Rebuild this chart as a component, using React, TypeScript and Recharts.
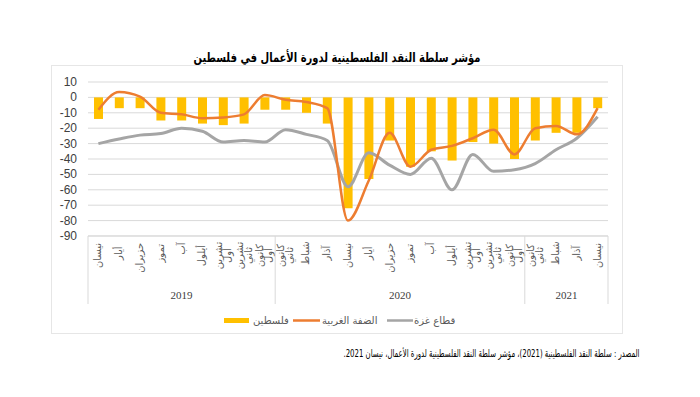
import React from 'react';
import { ComposedChart, Bar, Line, XAxis, YAxis, CartesianGrid } from 'recharts';

const months = ['نيسان','أيار','حزيران','تموز','آب','أيلول','تشرين أول','تشرين ثاني','كانون أول','كانون ثاني','شباط','آذار','نيسان','أيار','حزيران','تموز','آب','أيلول','تشرين أول','تشرين ثاني','كانون أول','كانون ثاني','شباط','آذار','نيسان'];
const years = ['2019', '2020', '2021'];
const palestine = [-14,-7,-7,-15,-15,-17,-18,-17,-8,-8,-10,-17,-72,-53,-28,-45,-35,-41,-29,-30,-40,-28,-23,-23,-7];
const westBank = [-8,3.5,0.5,-10,-11,-13.5,-13,-11,1.5,-1.5,-3,-7,-80,-54,-23,-45,-34,-31.5,-26.5,-21,-37,-20,-18.5,-24,-7];
const gaza = [-30,-27,-24.5,-23.5,-20,-22,-29,-28,-29,-21,-24,-28,-58,-36,-44,-50,-39.5,-60,-37,-48,-47,-43,-34,-26.5,-12.5];
const yTicks = [10,0,-10,-20,-30,-40,-50,-60,-70,-80,-90];
const seriesNames = ['فلسطين', 'الضفة الغربية', 'قطاع غزة'];
const title = 'مؤشر سلطة النقد الفلسطينية لدورة الأعمال في فلسطين';
const source = '\u200Fالمصدر : سلطة النقد الفلسطينية (2021)، مؤشر سلطة النقد الفلسطينية لدورة الأعمال، نيسان 2021.\u200F';

const data = months.map((m, i) => ({ i, m, p: palestine[i], w: westBank[i], g: gaza[i] }));

const W = 700, H = 397;
const M = { top: 82, right: 92, bottom: 91, left: 48 };
const Y_W = 40, X_H = 70;
const plotW = W - M.left - M.right - Y_W;
const bw = plotW / months.length;

const AR = '"DejaVu Sans", sans-serif';
const GRID = '#d9d9d9';

const YTick = (props: any) => {
  const { x, y, payload } = props;
  return (
    <text x={x} y={y} dy={4} textAnchor="end" fontSize={12} fill="#404040" fontFamily='"Liberation Sans", Arial, sans-serif'>
      {payload.value}
    </text>
  );
};

const XTick = (props: any) => {
  const { x, y, payload } = props;
  const i = payload.index ?? payload.value;
  const label = months[i];
  const parts = label.split(' ');
  const axisY = y - 8;
  const els: any[] = [];
  const lineGap = 9;
  const fs = 10;
  const maxLen = Math.max(...parts.map((p: string) => p.length)) * 4.6;
  parts.forEach((p: string, k: number) => {
    const off = (k - (parts.length - 1) / 2) * lineGap;
    els.push(
      <text key={'t' + k} transform={`translate(${x + off + 3},${y + maxLen / 2}) rotate(-90)`} textAnchor="middle" fontSize={fs} fill="#595959" fontFamily={AR}>
        {p}
      </text>
    );
  });
  if (i === 0 || i === 9 || i === 21) {
    els.push(<line key="d" x1={x - bw / 2} x2={x - bw / 2} y1={axisY} y2={axisY + 68} stroke={GRID} strokeWidth={1} />);
  }
  if (i === months.length - 1) {
    els.push(<line key="d2" x1={x + bw / 2} x2={x + bw / 2} y1={axisY} y2={axisY + 68} stroke={GRID} strokeWidth={1} />);
  }
  const yr = (txt: string, cx: number) => (
    <text key="y" x={cx} y={axisY + 63} textAnchor="middle" fontSize={11} fill="#404040" fontFamily='"Liberation Serif", "Times New Roman", serif'>{txt}</text>
  );
  if (i === 4) els.push(yr(years[0], x));
  if (i === 14) els.push(yr(years[1], x + bw / 2));
  if (i === 22) els.push(yr(years[2], x + bw / 2));
  return <g>{els}</g>;
};

export default function App() {
  return (
    <div style={{ position: 'absolute', left: 0, top: 0, width: W, height: H, background: '#fff' }}>
      <svg width={W} height={H} style={{ position: 'absolute', left: 0, top: 0 }}>
        <rect x={51.5} y={65.5} width={571} height={268} fill="none" stroke="#e6e6e6" strokeWidth={1} />
      </svg>
      <div style={{ position: 'absolute', left: 0, top: 0 }}>
        <ComposedChart width={W} height={H} data={data} margin={M}>
          <CartesianGrid horizontal vertical={false} stroke={GRID} />
          <XAxis dataKey="i" type="category" interval={0} height={X_H} tickLine={false} tickSize={0} tickMargin={8}
            axisLine={{ stroke: GRID }} tick={<XTick />} />
          <YAxis width={Y_W} domain={[-90, 10]} ticks={yTicks} interval={0} axisLine={false} tickLine={false}
            tickSize={6} tickMargin={5} tick={<YTick />} allowDataOverflow />
          <Bar dataKey="p" fill="#FFC000" barSize={9} isAnimationActive={false} />
          <Line dataKey="g" type="monotone" stroke="#A5A5A5" strokeWidth={3} dot={false} isAnimationActive={false} />
          <Line dataKey="w" type="monotone" stroke="#ED7D31" strokeWidth={2.5} dot={false} isAnimationActive={false} />
        </ComposedChart>
      </div>
      <svg width={W} height={H} style={{ position: 'absolute', left: 0, top: 0, pointerEvents: 'none' }}>
        <text x={337} y={62} textAnchor="middle" fontSize={13} fontWeight="bold" fill="#000" fontFamily={AR}
          textLength={287} lengthAdjust="spacingAndGlyphs">{title}</text>
        <rect x={224} y={318} width={25} height={5} fill="#FFC000" />
        <text x={253} y={324} fontSize={10} fill="#595959" fontFamily={AR}>{seriesNames[0]}</text>
        <line x1={293} x2={320} y1={320.5} y2={320.5} stroke="#ED7D31" strokeWidth={2.5} />
        <text x={322} y={324} fontSize={10} fill="#595959" fontFamily={AR}>{seriesNames[1]}</text>
        <line x1={387} x2={413} y1={320.5} y2={320.5} stroke="#A5A5A5" strokeWidth={2.5} />
        <text x={414} y={324} fontSize={10} fill="#595959" fontFamily={AR}>{seriesNames[2]}</text>
        <text x={491.5} y={357} textAnchor="middle" fontSize={10.5} fill="#000" fontFamily={AR}
          textLength={296} lengthAdjust="spacingAndGlyphs">{source}</text>
      </svg>
    </div>
  );
}
